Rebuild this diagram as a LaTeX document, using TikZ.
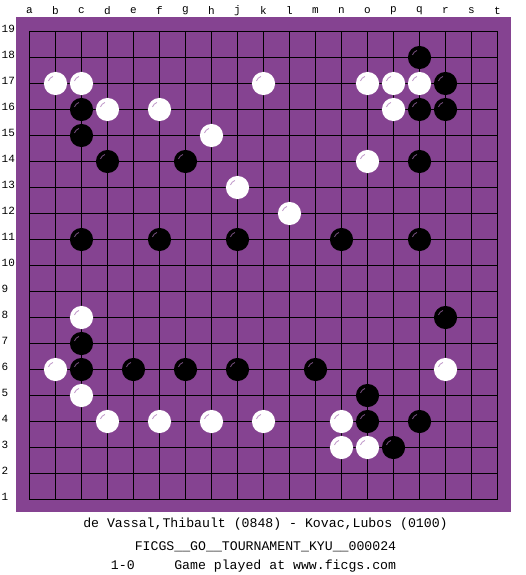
\documentclass[tikz,border=0pt]{standalone}
\usepackage{fontspec}
\setmonofont{Liberation Mono}
\definecolor{boardpurple}{RGB}{133,67,145}
\definecolor{whitehl}{RGB}{190,150,200}
\definecolor{blackhl}{RGB}{120,80,130}
\tikzset{
  gridline/.style={draw=black, line width=1pt},
  coordlabel/.style={inner sep=0pt, font=\ttfamily\fontsize{11}{13}\selectfont},
  infotext/.style={inner sep=0pt, font=\ttfamily\fontsize{13.2}{15}\selectfont},
  blackstone/.style={fill=black},
  whitestone/.style={fill=white},
  bhl/.style={draw=blackhl, line width=0.8pt},
  whl/.style={draw=whitehl, line width=0.8pt}
}
\begin{document}
\begin{tikzpicture}[x=1pt,y=-1pt]
\useasboundingbox (0,0) rectangle (525,575);
\fill[white] (0,0) rectangle (525,575);
\fill[boardpurple] (16,17.5) rectangle (511,512);
% grid
\foreach \i in {0,...,18} {
  \draw[gridline] (29.5+26*\i,31.5) -- (29.5+26*\i,499.5);
  \draw[gridline] (29.5,31.5+26*\i) -- (497.5,31.5+26*\i);
}
% column labels
\foreach \l [count=\i from 0] in {a,b,c,d,e,f,g,h,j,k,l,m,n,o,p,q,r,s,t} {
  \node[coordlabel] (col\l) at (29.5+26*\i,10.5) {\l};
}
% row labels
\foreach \r in {1,...,19} {
  \node[coordlabel, anchor=west] (row\r) at (1.5,{31.5+26*(19-\r)-2.5}) {\r};
}
% black stones
\foreach \c/\r in {15/18,16/17,2/16,15/16,16/16,2/15,3/14,6/14,15/14,2/11,5/11,8/11,12/11,15/11,16/8,2/7,2/6,4/6,6/6,8/6,11/6,13/5,13/4,15/4,14/3} {
  \fill[blackstone] ({29.5+26*\c},{31.5+26*(19-\r)}) circle (11.6);
  \draw[bhl] ({29.5+26*\c},{31.5+26*(19-\r)}) ++(200:7.5) arc (200:250:7.5);
}
% white stones
\foreach \c/\r in {1/17,2/17,9/17,13/17,14/17,15/17,3/16,5/16,14/16,7/15,13/14,8/13,10/12,2/8,1/6,16/6,2/5,3/4,5/4,7/4,9/4,12/4,12/3,13/3} {
  \fill[whitestone] ({29.5+26*\c},{31.5+26*(19-\r)}) circle (11.6);
  \draw[whl] ({29.5+26*\c},{31.5+26*(19-\r)}) ++(200:7.5) arc (200:250:7.5);
}
% info text
\node[infotext] (players) at (265.5,524.5) {de Vassal,Thibault (0848) - Kovac,Lubos (0100)};
\node[infotext] (event) at (265.5,547) {FICGS\_\_GO\_\_TOURNAMENT\_KYU\_\_000024};
\node[infotext] (result) at (253.5,566) {1-0~~~~~Game played at www.ficgs.com};
\end{tikzpicture}
\end{document}
